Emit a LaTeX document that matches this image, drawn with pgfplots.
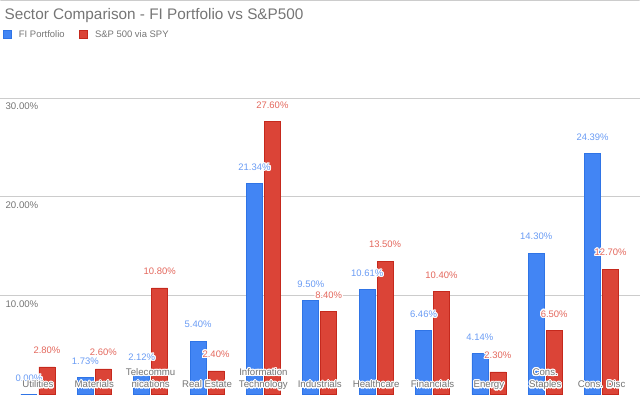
\documentclass[border=0pt]{standalone}
\usepackage{fontspec}
\setmainfont{Liberation Sans}
\usepackage{pgfplots}
\pgfplotsset{compat=1.18}
\usepackage{pgfplotstable}
\usepackage[copies]{contour}
\contourlength{1.1bp}
\contournumber{16}
\definecolor{gblue}{HTML}{4285F4}
\definecolor{gred}{HTML}{DB4437}
\definecolor{gbluedark}{HTML}{2F74E6}
\definecolor{greddark}{HTML}{C5291D}
\definecolor{glabblue}{HTML}{6A9CF5}
\definecolor{glabred}{HTML}{E4685D}
\definecolor{ggray}{HTML}{757575}
\definecolor{ggrid}{HTML}{CCCCCC}

\pgfplotsset{
  layers/mylayers/.define layer set={
    axis background,axis grid,axis ticks,axis lines,pre main,main,
    axis descriptions,axis tick labels,axis foreground
  }{/pgfplots/layers/standard},
}

\pgfplotstableread{
x fi spy
0 0.00 2.80
1 1.73 2.60
2 2.12 10.80
3 5.40 2.40
4 21.34 27.60
5 9.50 8.40
6 10.61 13.50
7 6.46 10.40
8 4.14 2.30
9 14.30 6.50
10 24.39 12.70
}\datatable

\begin{document}
\begin{tikzpicture}
\begin{axis}[
  set layers=mylayers,
  scale only axis, width=640bp, height=395bp,
  xmin=-0.6655, xmax=10.674, ymin=0, ymax=39.9,
  ybar, bar width=16bp,
  axis line style={draw=none},
  major tick length=0pt,
  xtick={0,...,10},
  xticklabels={
    \contour{white}{Utilities},
    \contour{white}{Materials},
    \contour{white}{Telecommu}\\\contour{white}{nications},
    \contour{white}{Real Estate},
    \contour{white}{Information}\\\contour{white}{Technology},
    \contour{white}{Industrials},
    \contour{white}{Healthcare},
    \contour{white}{Financials},
    \contour{white}{Energy},
    \contour{white}{Cons.}\\\contour{white}{Staples},
    \contour{white}{Cons. Disc}},
  xticklabel style={anchor=south, text depth=0pt, inner sep=0pt, yshift=6.5bp,
    align=center, font=\fontsize{9.7}{12.3}\selectfont, text=ggray},
  ytick={10,20,30},
  yticklabels={10.00\%,20.00\%,30.00\%},
  yticklabel style={anchor=north west, inner sep=0pt, xshift=5bp, yshift=-5bp,
    font=\fontsize{9.7}{11}\selectfont, text=ggray},
  ymajorgrids, grid style={ggrid, line width=0.8bp},
  every node near coord/.append style={anchor=center, yshift=16bp, inner sep=0pt,
    font=\fontsize{9.5}{11}\selectfont},
  legend style={at={(rel axis cs:0,1)}, anchor=north west, xshift=2bp, yshift=-28bp,
    draw=none, fill=none, inner sep=0pt, font=\fontsize{9.5}{11}\selectfont,
    text=ggray, legend columns=-1,
    /tikz/every odd column/.append style={column sep=5.5bp},
    /tikz/every even column/.append style={column sep=12bp}},
  legend image code/.code={\fill[#1] (0bp,-4.15bp) rectangle (8.3bp,4.15bp);},
]
% bars
\addplot[bar shift=-9bp, fill=gblue, draw=gbluedark, line width=0.6bp]
  table[x=x, y=fi] {\datatable};
\addlegendentry{FI Portfolio}
\addplot[bar shift=9bp, fill=gred, draw=greddark, line width=0.6bp]
  table[x=x, y=spy] {\datatable};
\addlegendentry{S\&P 500 via SPY}
% value labels, drawn above all bars, with a white halo
\addplot[forget plot, on layer=axis descriptions, bar shift=-9bp, draw=none, fill=none,
  nodes near coords={\contour{white}{\pgfmathprintnumber[fixed,fixed zerofill,precision=2,assume math mode=true]{\pgfplotspointmeta}\%}},
  every node near coord/.append style={text=glabblue}]
  table[x=x, y=fi] {\datatable};
\addplot[forget plot, on layer=axis descriptions, bar shift=9bp, draw=none, fill=none,
  nodes near coords={\contour{white}{\pgfmathprintnumber[fixed,fixed zerofill,precision=2,assume math mode=true]{\pgfplotspointmeta}\%}},
  every node near coord/.append style={text=glabred}]
  table[x=x, y=spy] {\datatable};
\draw[ggrid, line width=1bp] ([yshift=-0.5bp]rel axis cs:0,1) -- ([yshift=-0.5bp]rel axis cs:1,1);
\node[anchor=base west, inner sep=0pt, text=ggray, font=\fontsize{15.4}{18}\selectfont,
  xshift=4bp, yshift=-19bp] at (rel axis cs:0,1) {Sector Comparison - FI Portfolio vs S\&P500};
\end{axis}
\end{tikzpicture}
\end{document}
